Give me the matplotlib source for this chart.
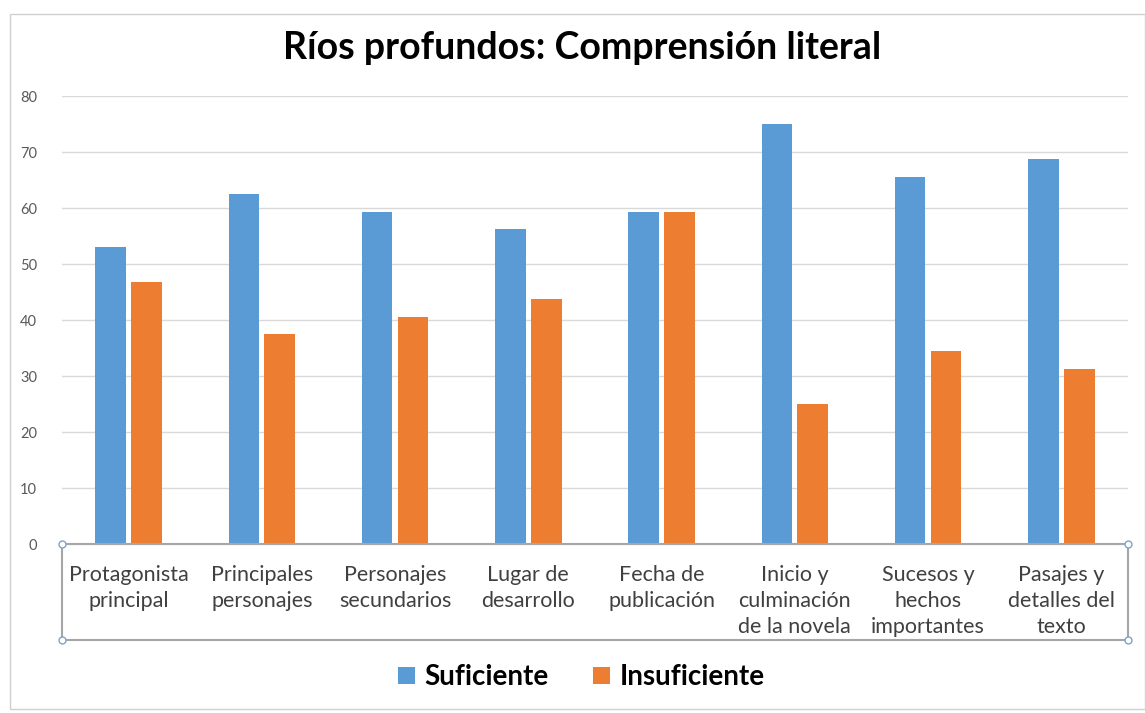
import numpy as np
import matplotlib
matplotlib.use("Agg")
import matplotlib.pyplot as plt
from matplotlib.patches import Rectangle
from matplotlib.lines import Line2D

plt.rcParams['font.family'] = ['Lato', 'DejaVu Sans']

categorias = ["Protagonista\nprincipal", "Principales\npersonajes", "Personajes\nsecundarios",
              "Lugar de\ndesarrollo", "Fecha de\npublicación", "Inicio y\nculminación\nde la novela",
              "Sucesos y\nhechos\nimportantes", "Pasajes y\ndetalles del\ntexto"]
suficiente = [53.1, 62.5, 59.4, 56.2, 59.4, 75.0, 65.6, 68.8]
insuficiente = [46.9, 37.5, 40.6, 43.8, 59.4, 25.0, 34.4, 31.2]

azul = "#5B9BD5"
naranja = "#ED7D31"

fig = plt.figure(figsize=(11.45, 7.13), dpi=100)
ax = fig.add_axes([0.0541, 0.237, 0.931, 0.628])

x = np.arange(len(categorias))
w = 0.23
ax.bar(x - 0.135, suficiente, w, color=azul, label="Suficiente", zorder=3)
ax.bar(x + 0.135, insuficiente, w, color=naranja, label="Insuficiente", zorder=3)

ax.set_xlim(-0.5, len(categorias) - 0.5)
ax.set_ylim(0, 80)
ax.set_yticks(range(0, 81, 10))
ax.yaxis.grid(True, color="#D9D9D9", linewidth=1, zorder=0)
for s in ["top", "right", "left"]:
    ax.spines[s].set_visible(False)
ax.spines["bottom"].set_color("#A6A6A6")
ax.tick_params(axis="y", length=0, labelsize=10.5, labelcolor="#595959", pad=18)
ax.tick_params(axis="x", length=0, pad=15)
ax.set_xticks(x)
ax.set_xticklabels(categorias, fontsize=15.5, color="#404040", linespacing=1.38, va="top")

fig.text(0.508, 0.933, "Ríos profundos: Comprensión literal", ha="center", va="center",
         fontsize=27, fontweight="bold", color="black")

leg = fig.legend(loc="center", bbox_to_anchor=(0.508, 0.05), ncol=2, frameon=False,
                 prop={"size": 20, "weight": "bold"}, handlelength=0.6, handleheight=0.6,
                 columnspacing=1.6, handletextpad=0.35)

# caja de selección del eje de categorías
x0, x1 = 62 / 1145, 1128 / 1145
y0, y1 = 1 - 640 / 713, 1 - 544 / 713
fig.add_artist(Rectangle((x0, y0), x1 - x0, y1 - y0, transform=fig.transFigure,
                         fill=False, edgecolor="#A6A6A6", linewidth=1.5))
for cx, cy in [(x0, y0), (x0, y1), (x1, y0), (x1, y1)]:
    fig.add_artist(Line2D([cx], [cy], marker="o", markersize=5, markerfacecolor="white",
                          markeredgecolor="#7FA3C8", transform=fig.transFigure))

# marco del gráfico
fig.add_artist(Rectangle((10 / 1145, 0.005), 1 - 10 / 1145, 1 - 14 / 713 - 0.005,
                         transform=fig.transFigure, fill=False, edgecolor="#D0D0D0", linewidth=1))

fig.savefig("out.png", dpi=100)
